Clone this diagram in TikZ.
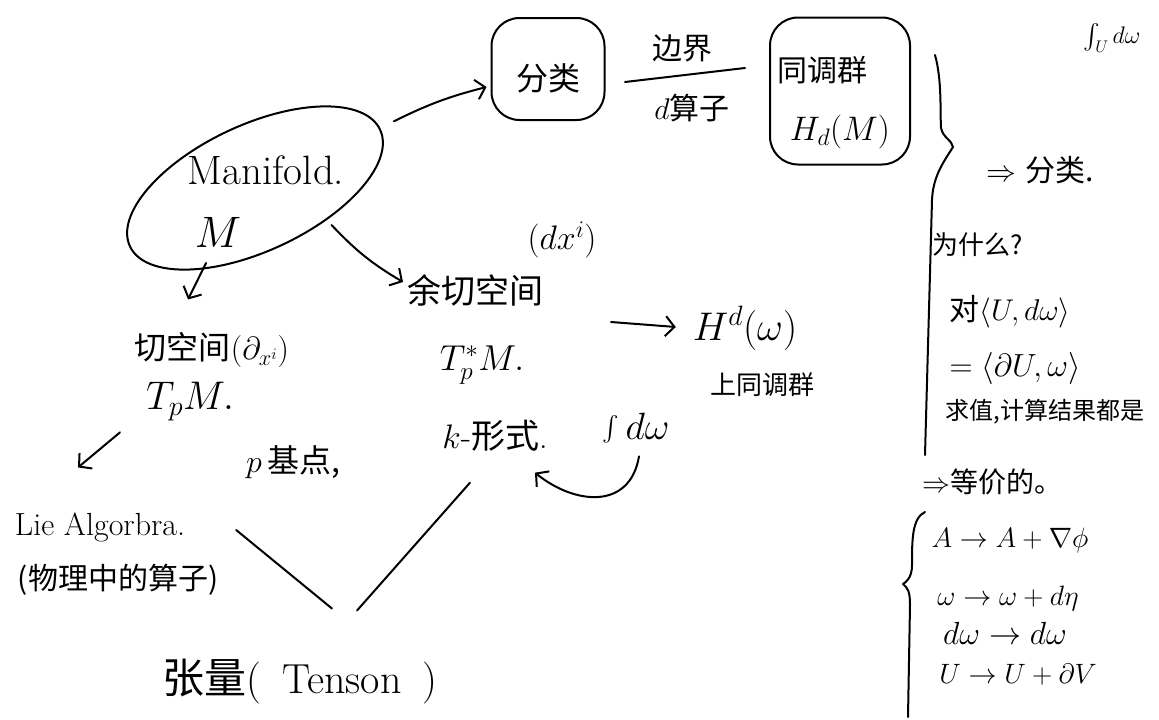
\RequirePackage{fix-cm}
\documentclass[tikz,border=0pt]{standalone}
\usepackage{amsmath}
\usepackage{fontspec}
\newfontfamily\cjk{Noto Sans CJK SC}
\usetikzlibrary{arrows.meta,shapes.geometric}
\newcommand\FS[1]{\fontsize{#1}{#1}\selectfont}
\begin{document}
\begin{tikzpicture}[x=1pt,y=-1pt,line width=2pt,line cap=round,line join=round,
  lbl/.style={inner sep=0pt,anchor=center},
  blob/.style={draw,rounded corners=28pt,inner sep=0pt},
  harr/.style={-{Straight Barb[length=9pt,width=20pt]}}]
\useasboundingbox (0,0) rectangle (1159,720);

% ---------- Manifold ----------
\node[draw,ellipse,minimum width=276pt,minimum height=126pt,rotate=25] (manE) at (255,188) {};
\node[lbl] (man) at (266,170) {\FS{41}Manifold.};
\node[lbl] (mM) at (218,232) {\FS{44}$M$};

% ---------- classification / homology ----------
\node[blob,minimum width=113pt,minimum height=102pt] (fl) at (548,69) {};
\node[lbl] (flt) at (548,78) {\FS{32}\cjk 分类};
\node[lbl] (bj) at (682,48) {\FS{30}\cjk 边界};
\node[lbl] (dsz) at (692,108) {\FS{30}$d$\cjk 算子};
\draw (625,82) -- (745,68);
\node[blob,minimum width=140pt,minimum height=147pt] (hb) at (840,91) {};
\node[lbl] (hbt) at (822,70) {\FS{30}\cjk 同调群};
\node[lbl] (hbh) at (840,132) {\FS{34}$H_d(M)$};

\draw[harr] ([shift={(13,-8)}]manE.east) to[bend left=6] ([shift={(-4,18)}]fl.west);

% ---------- tangent side ----------
\node[lbl] (tan) at (212,350) {\FS{32}\cjk 切空间\rmfamily($\partial_{x^i}$)};
\node[lbl] (tpm) at (190,402) {\FS{40}$T_pM.$};
\node[lbl] (bp) at (293,462) {\FS{32}$p$\,\cjk 基点,};
\node[lbl] (lie) at (100,527) {\FS{32}Lie Algorbra.};
\node[lbl] (phys) at (118,580) {\FS{30}\cjk (物理中的算子)};
\node[lbl] (tensor) at (300,682) {\FS{42}\cjk 张量\rmfamily(\enspace Tenson\enspace)};

% ---------- cotangent side ----------
\node[lbl] (dxi) at (562,240) {\FS{34}$(dx^i)$};
\node[lbl] (cotan) at (475,290) {\FS{34}\cjk 余切空间};
\node[lbl] (tspm) at (482,365) {\FS{36}$T^*_pM.$};
\node[lbl] (kform) at (495,436) {\FS{34}$k$-\cjk 形式\rmfamily.};
\node[lbl] (intdw) at (636,428) {\FS{38}$\int d\omega$};
\node[lbl] (hd) at (745,328) {\FS{40}$H^d(\omega)$};
\node[lbl] (shtg) at (762,385) {\FS{26}\cjk 上同调群};

\draw[harr] ([shift={(-76,17)}]manE.south) -- ([shift={(-24,-32)}]tan.north);
\draw[harr] ([shift={(-70,10)}]tpm.south) -- ([shift={(-22,-44)}]lie.north);
\draw ([shift={(50,3)}]lie.east) -- ([shift={(32,-50)}]tensor.north);
\draw ([shift={(-25,30)}]kform.south) -- ([shift={(57,-48)}]tensor.north);

\draw[harr] ([shift={(18,-4)}]manE.-60) to[bend right=8] ([shift={(-3,-8)}]cotan.west);
\draw[harr] ([shift={(67,32)}]cotan.east) -- ([shift={(-16,-1)}]hd.west);
\draw[harr] ([shift={(3,12)}]intdw.south) .. controls (630,510) and (575,505) .. ([shift={(40,20)}]kform.south);

% ---------- right column ----------
\node[lbl] (r1) at (1040,170) {\FS{30}$\Rightarrow$\ \cjk 分类.};
\node[lbl] (r2) at (978,245) {\FS{26}\cjk 为什么?};
\node[lbl] (r3) at (1010,312) {\FS{30}\cjk 对\rmfamily$\langle U,d\omega\rangle$};
\node[lbl] (r4) at (1015,368) {\FS{32}$=\langle\partial U,\omega\rangle$};
\node[lbl] (r5) at (1045,412) {\FS{24}\cjk 求值,计算结果都是};
\node[lbl] (r6) at (992,482) {\FS{28}$\Rightarrow$\cjk 等价的。};
\node[lbl] (g1) at (1010,540) {\FS{28}$A\to A+\nabla\phi$};
\node[lbl] (g2) at (1008,598) {\FS{28}$\omega\to\omega+d\eta$};
\node[lbl] (g3) at (1005,633) {\FS{32}$d\omega\to d\omega$};
\node[lbl] (g4) at (1018,675) {\FS{28}$U\to U+\partial V$};
\node[lbl] (top) at (1112,38) {\FS{24}$\int_U d\omega$};

% braces
\draw (935,55) .. controls (942,80) and (940,110) .. (941,128)
      .. controls (943,138) and (952,140) .. (953,147)
      .. controls (945,160) and (933,175) .. (932,200)
      -- (925,455);
\draw (925,512) .. controls (912,518) and (912,540) .. (912,565)
      .. controls (912,578) and (906,582) .. (903,584)
      .. controls (908,588) and (910,592) .. (910,605)
      -- (908,717);
\end{tikzpicture}
\end{document}
